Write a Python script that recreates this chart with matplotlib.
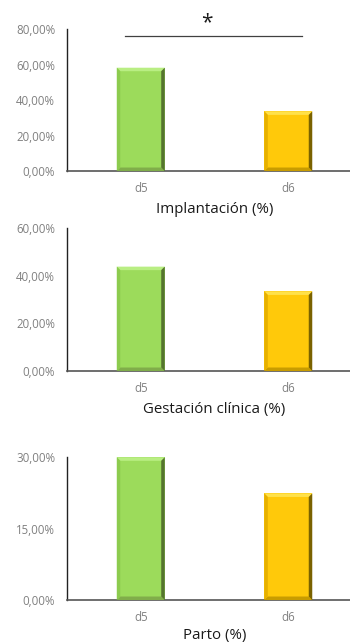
import matplotlib
matplotlib.use("Agg")
import matplotlib.pyplot as plt
from matplotlib.patches import Polygon
from matplotlib.ticker import FuncFormatter

plt.rcParams['font.family'] = ['Open Sans', 'DejaVu Sans']

categories = ["d5", "d6"]
implantacion = [58.2, 33.6]
gestacion = [43.8, 33.4]
parto = [30.0, 22.4]

titles = ["Implantación (%)", "Gestación clínica (%)", "Parto (%)"]
series = [implantacion, gestacion, parto]
ylims = [80, 60, 30]
yticks = [[0, 20, 40, 60, 80], [0, 20, 40, 60], [0, 15, 30]]

# face, top, left, right, bottom shades for the bevelled bars
palettes = [
    dict(face="#9cdb5b", top="#b9ee83", left="#8ccb4e", right="#55742f", bottom="#80ad4a"),
    dict(face="#ffc90a", top="#ffe14a", left="#e6b000", right="#7a6200", bottom="#c89c00"),
]

fig = plt.figure(figsize=(3.5, 6.42), dpi=100)
positions = [
    [0.1914, 0.7336, 0.843, 0.2212],
    [0.1914, 0.4221, 0.843, 0.2227],
    [0.1914, 0.0654, 0.843, 0.2223],
]
labelpads = [5, 5, 3]


def bevel(ax, rect, pal, bx=3.5, by=3.5):
    fig.canvas.draw()
    x0, y0 = rect.get_x(), rect.get_y()
    x1, y1 = x0 + rect.get_width(), y0 + rect.get_height()
    (X0, Y0), (X1, Y1) = ax.transData.transform([(x0, y0), (x1, y1)])
    Y1 = min(Y1, ax.transAxes.transform((0, 1))[1])
    faces = {
        "top": [(X0, Y1), (X1, Y1), (X1 - bx, Y1 - by), (X0 + bx, Y1 - by)],
        "bottom": [(X0, Y0), (X1, Y0), (X1 - bx, Y0 + by), (X0 + bx, Y0 + by)],
        "left": [(X0, Y0), (X0, Y1), (X0 + bx, Y1 - by), (X0 + bx, Y0 + by)],
        "right": [(X1, Y0), (X1, Y1), (X1 - bx, Y1 - by), (X1 - bx, Y0 + by)],
    }
    for k, pts in faces.items():
        p = Polygon(pts, closed=True, facecolor=pal[k], edgecolor="none",
                    transform=None, zorder=3)
        fig.add_artist(p)


axes = []
for i, pos in enumerate(positions):
    ax = fig.add_axes(pos)
    axes.append(ax)
    bars = ax.bar(categories, series[i], width=0.325,
                  color=[p["face"] for p in palettes], zorder=2)
    ax.set_xlim(-0.5, 1.5)
    ax.set_ylim(0, ylims[i])
    ax.set_yticks(yticks[i])
    ax.yaxis.set_major_formatter(FuncFormatter(lambda v, _: f"{v:.2f}%".replace(".", ",")))
    for s in ["top", "right"]:
        ax.spines[s].set_visible(False)
    ax.spines["left"].set_color("#222222")
    ax.spines["left"].set_linewidth(1.0)
    ax.spines["bottom"].set_color("#555555")
    ax.spines["bottom"].set_linewidth(1.2)
    ax.tick_params(axis="both", length=0, labelsize=8.3, labelcolor="#808080")
    ax.tick_params(axis="y", pad=8.5)
    ax.tick_params(axis="x", pad=8)
    ax.set_xlabel(titles[i], fontsize=10.8, color="#1a1a1a", labelpad=labelpads[i])
    for rect, pal in zip(bars, palettes):
        bevel(ax, rect, pal)

# significance bracket between d5 and d6 implantation
ax = axes[0]
ax.plot([-0.108, 1.091], [76, 76], color="#404040", lw=0.9, clip_on=False, zorder=4)
ax.text(0.447, 83.5, "*", ha="center", va="center", fontsize=15, color="#1a1a1a",
        clip_on=False)

fig.savefig("out.png", dpi=100)
